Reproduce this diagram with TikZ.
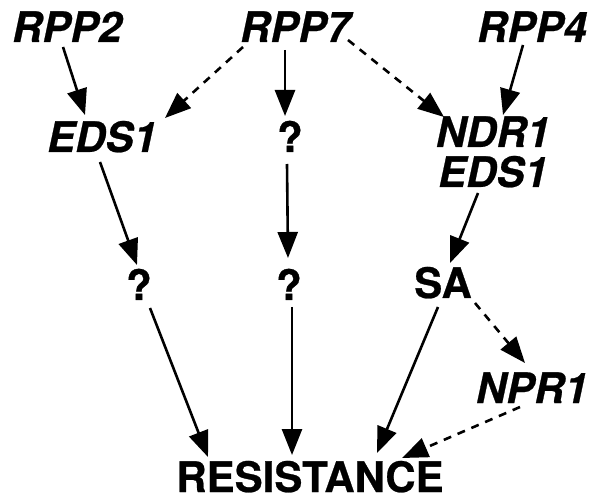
\documentclass[tikz,border=0pt]{standalone}
\usepackage{fontspec}
\setmainfont{TeX Gyre Heros}[BoldFeatures={FakeBold=0.6},BoldItalicFeatures={FakeBold=0.6}]
\usetikzlibrary{arrows.meta}
\begin{document}
\begin{tikzpicture}[x=1pt,y=-1pt,
  lbl/.style={anchor=base,inner sep=0pt,font=\fontsize{42}{48}\selectfont\bfseries},
  gene/.style={lbl,font=\fontsize{42}{48}\selectfont\bfseries\itshape},
  arr/.style={line width=2.6pt,-{Triangle[length=26pt,width=20pt]}},
  darr/.style={arr,dash pattern=on 8pt off 7pt}]
\useasboundingbox (0,0) rectangle (590,500);
% labels, placed by baseline
\node[gene] (rpp2) at (67,42) {RPP2};
\node[gene] (rpp7) at (295,42) {RPP7};
\node[gene] (rpp4) at (532,42) {RPP4};
\node[gene] (edsl) at (102,152) {EDS1};
\node[lbl]  (qa)   at (290,152) {?};
\node[gene] (ndr1) at (493,147) {NDR1};
\node[gene] (edsr) at (493,187) {EDS1};
\node[lbl]  (qb)   at (139,300) {?};
\node[lbl]  (qc)   at (289,300) {?};
\node[lbl]  (sa)   at (443,298) {SA};
\node[gene] (npr1) at (532,403) {NPR1};
\node[lbl]  (res)  at (310,492) {RESISTANCE};
% connectors
\draw[arr]  ([shift={(-4,5)}]rpp2.base)   -- ([shift={(-17,-37)}]edsl.base);
\draw[darr] ([shift={(-52,5)}]rpp7.base)  -- ([shift={(63,-34)}]edsl.base);
\draw[arr]  ([shift={(-10,8)}]rpp7.base)  -- ([shift={(-5,-36)}]qa.base);
\draw[darr] ([shift={(53,-2)}]rpp7.base)  -- ([shift={(-49,-30)}]ndr1.base);
\draw[arr]  ([shift={(-9,3)}]rpp4.base)   -- ([shift={(10,-32)}]ndr1.base);
\draw[arr]  ([shift={(-2,10)}]edsl.base)  -- ([shift={(-2,-35)}]qb.base);
\draw[arr]  ([shift={(-3,12)}]qa.base)    -- ([shift={(-1,-42)}]qc.base);
\draw[arr]  ([shift={(11,8)}]qb.base)     -- ([shift={(-102,-35)}]res.base);
\draw[arr]  ([shift={(3,7)}]qc.base)      -- ([shift={(-18,-37)}]res.base);
\draw[arr]  ([shift={(-15,6)}]edsr.base)  -- ([shift={(7,-35)}]sa.base);
\draw[darr] ([shift={(32,5)}]sa.base)     -- ([shift={(-7,-40)}]npr1.base);
\draw[arr]  ([shift={(-5,9)}]sa.base)     -- ([shift={(67,-39)}]res.base);
\draw[darr] ([shift={(-12,4)}]npr1.base)  -- ([shift={(92,-34)}]res.base);
\end{tikzpicture}
\end{document}
